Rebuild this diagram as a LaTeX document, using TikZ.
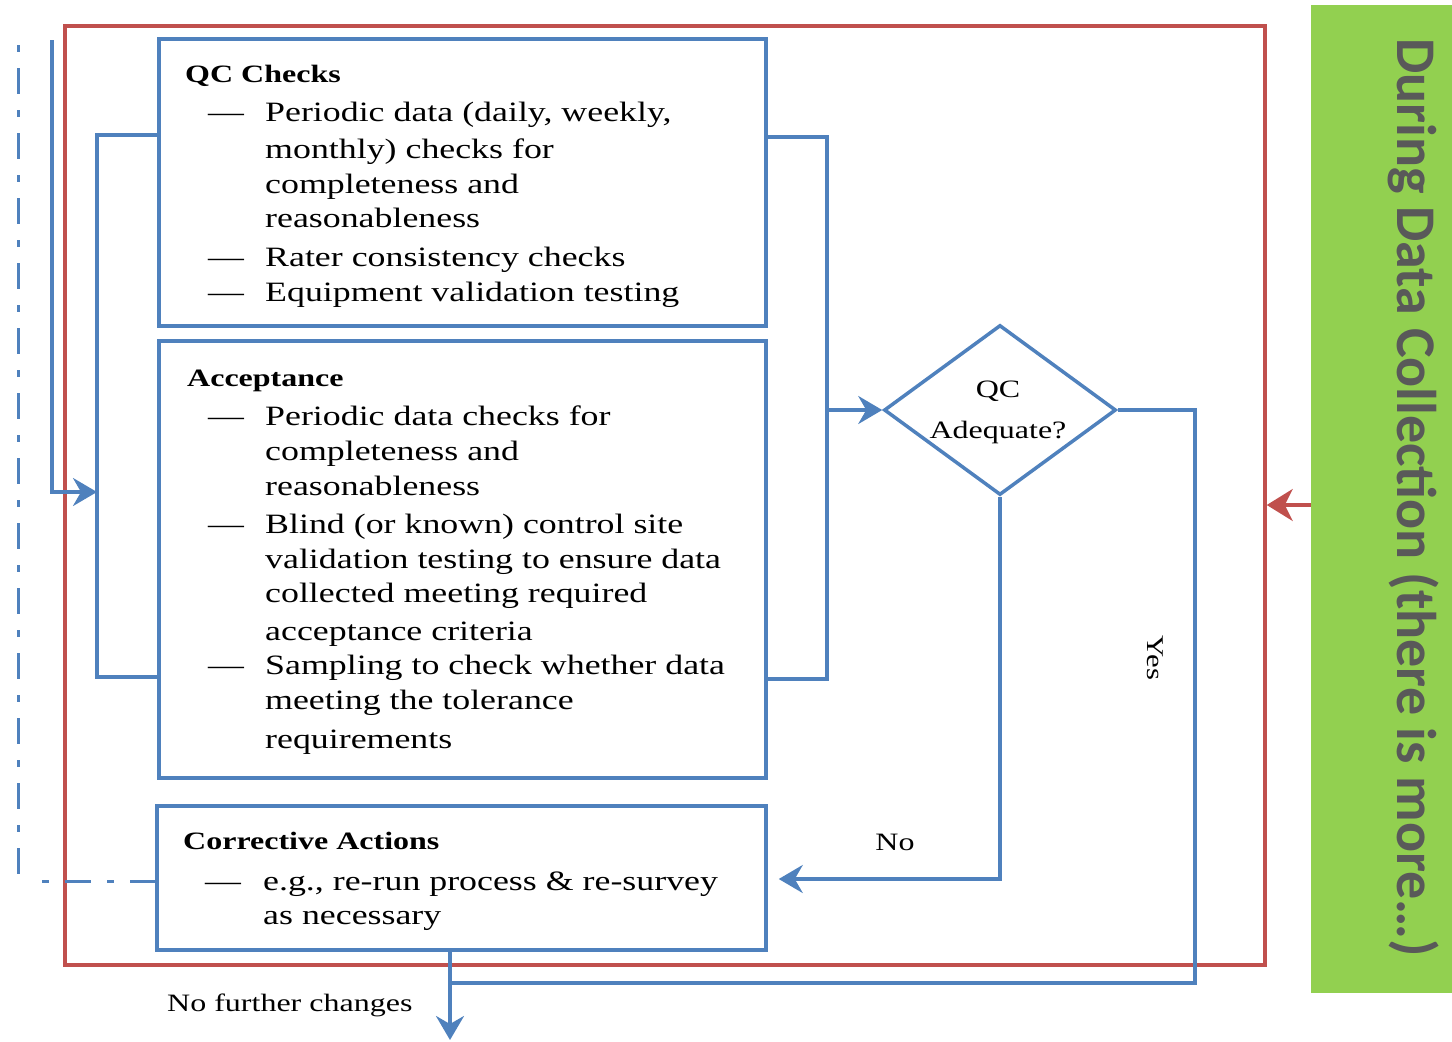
\documentclass[tikz,border=0pt]{standalone}
\usepackage{fontspec}
\usetikzlibrary{arrows.meta,shapes.geometric,calc}
\newfontfamily\serifx{Liberation Serif}[FakeStretch=1.28]
\newfontfamily\greenfont{Carlito}
\definecolor{boxblue}{HTML}{4F81BD}
\definecolor{framered}{HTML}{C0504D}
\definecolor{bargreen}{HTML}{92D050}
\definecolor{bartext}{HTML}{595959}
\newcommand\mkline[4]{\node[txt,anchor=base west] (#1) at (#2,#3) {#4};}
\newcommand\mkdash[3]{\node[txt,anchor=base west] (#1) at (#2,#3) {\symbol{"2014}};}
\begin{document}
\begin{tikzpicture}[x=1pt,y=-1pt,
  blk/.style={draw=boxblue,line width=3.5pt,fill=white,inner sep=0pt},
  conn/.style={draw=boxblue,line width=3.5pt},
  tipb/.style={-{Stealth[length=24pt,width=28pt,inset=8pt]}},
  dashdot/.style={draw=boxblue,line width=3pt,dash pattern=on 7pt off 16pt on 26pt off 16pt},
  txt/.style={inner sep=0pt,font=\serifx\fontsize{28}{35}\selectfont},
  head/.style={inner sep=0pt,font=\serifx\bfseries\fontsize{25}{30}\selectfont},
  small/.style={inner sep=0pt,font=\serifx\fontsize{25}{30}\selectfont}]
\useasboundingbox (0,0) rectangle (1452,1042);
% red frame and green bar
\node[draw=framered,line width=3.5pt,minimum width=1200pt,minimum height=939pt,inner sep=0pt] (frame) at (665,495.5) {};
\node[fill=bargreen,minimum width=141pt,minimum height=988pt,inner sep=0pt] (bar) at (1381.5,499) {};
\node[rotate=-90,anchor=base west,inner sep=0pt,text=bartext,font=\greenfont\bfseries\fontsize{56}{60}\selectfont] (bartxt) at (1397,38) {During Data Collection (there is more\ldots)};
\coordinate (redy) at (0,505);
\draw[draw=framered,line width=3.5pt,-{Stealth[length=26pt,width=32pt,inset=8pt]}] (bar.west |- redy) -- (frame.east |- redy);
% boxes
\node[blk,minimum width=607pt,minimum height=287pt] (qc) at (462.5,182.5) {};
\node[blk,minimum width=607pt,minimum height=437pt] (acc) at (462.5,559.5) {};
\node[blk,minimum width=609pt,minimum height=144pt] (corr) at (461.5,878) {};
\node[draw=boxblue,line width=3.5pt,fill=white,shape=diamond,minimum width=232pt,minimum height=170pt,inner sep=0pt] (dia) at (1000,410) {};
% texts QC checks
\node[head,anchor=base west] (qch) at (185,82) {QC Checks};
\mkdash{qd1}{208}{121}
\mkline{q1}{265}{121}{Periodic data (daily, weekly,}
\mkline{q2}{265}{158}{monthly) checks for}
\mkline{q3}{265}{193}{completeness and}
\mkline{q4}{265}{227}{reasonableness}
\mkdash{qd2}{208}{266}
\mkline{q5}{265}{266}{Rater consistency checks}
\mkdash{qd3}{208}{301}
\mkline{q6}{265}{301}{Equipment validation testing}
% acceptance
\node[head,anchor=base west] (acch) at (187,386) {Acceptance};
\mkdash{ad1}{208}{425}
\mkline{a1}{265}{425}{Periodic data checks for}
\mkline{a2}{265}{460}{completeness and}
\mkline{a3}{265}{495}{reasonableness}
\mkdash{ad2}{208}{533}
\mkline{a4}{265}{533}{Blind (or known) control site}
\mkline{a5}{265}{568}{validation testing to ensure data}
\mkline{a6}{265}{602}{collected meeting required}
\mkline{a7}{265}{640}{acceptance criteria}
\mkdash{ad3}{208}{674}
\mkline{a8}{265}{674}{Sampling to check whether data}
\mkline{a9}{265}{709}{meeting the tolerance}
\mkline{a10}{265}{748}{requirements}
% corrective
\node[head,anchor=base west] (corrh) at (183,849) {Corrective Actions};
\mkdash{cd1}{205}{890}
\mkline{c1}{263}{890}{e.g., re-run process \& re-survey}
\mkline{c2}{263}{924}{as necessary}
% diamond text
\node[small,anchor=base] (dq1) at (998,397) {QC};
\node[small,anchor=base] (dq2) at (998,438) {Adequate?};
% labels
\node[small,anchor=base] (nolbl) at (895,850) {No};
\node[small,anchor=base west] (nfc) at (167,1011) {No further changes};
\node[rotate=-90,inner sep=0pt,font=\serifx\fontsize{24}{28}\selectfont] (yeslbl) at (1155,658) {Yes};
% coordinates
\coordinate (lbtop) at (97,135);
\coordinate (lbbot) at (97,677);
\coordinate (lbmid) at (97,492);
\coordinate (lin) at (52,40);
\coordinate (rbtop) at (827,137);
\coordinate (rbbot) at (827,679);
\coordinate (yr) at (1195,410);
\coordinate (ybot) at (1195,983);
\coordinate (outx) at (450,983);
\coordinate (outend) at (450,1040);
\coordinate (noy) at (0,879);
\coordinate (dtop) at (18,45);
\coordinate (dbot) at (18,885);
\coordinate (hstart) at (42,881);
% connectors
\draw[conn] (qc.west |- lbtop) -- (lbtop) -- (lbbot) -- (acc.west |- lbbot);
\draw[conn,tipb] (lin) -- (lin |- lbmid) -- (lbmid);
\draw[conn] (qc.east |- rbtop) -- (rbtop) -- (rbbot) -- (acc.east |- rbbot);
\draw[conn,tipb] (rbtop |- dia.west) -- (dia.west);
\draw[conn] (dia.east) -- (yr) -- (ybot) -- (outx);
\draw[conn,tipb] (dia.south) -- (dia.south |- noy) -- ([xshift=11pt]corr.east |- noy);
\draw[conn,tipb] (corr.south -| outx) -- (outend);
\draw[dashdot] (dtop) -- (dbot);
\draw[dashdot] (hstart) -- (corr.west |- hstart);
\end{tikzpicture}
\end{document}
